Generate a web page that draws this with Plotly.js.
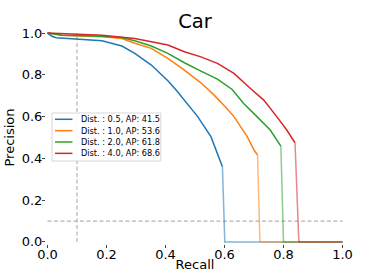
<!DOCTYPE html>
<html>
<head>
<meta charset="utf-8">
<script src="https://cdn.plot.ly/plotly-3.0.1.min.js"></script>
<style>html,body{margin:0;padding:0;background:#fff;}#chart{width:381px;height:272px;}</style>
</head>
<body>
<div id="chart"></div>
<script>
// Dist. 0.5
var recall05 = [0, 0.005, 0.015, 0.03, 0.1, 0.185, 0.252, 0.296, 0.352, 0.408, 0.436, 0.464, 0.509, 0.554, 0.576, 0.593, 0.601, 1.0];
var precision05 = [1.0, 0.995, 0.985, 0.978, 0.972, 0.963, 0.938, 0.903, 0.847, 0.772, 0.727, 0.679, 0.6, 0.504, 0.424, 0.36, 0, 0];
// Dist. 1.0
var recall10 = [0, 0.05, 0.185, 0.252, 0.296, 0.352, 0.408, 0.464, 0.52, 0.565, 0.604, 0.632, 0.677, 0.70, 0.712, 0.72, 1.0];
var precision10 = [1.0, 0.99, 0.983, 0.974, 0.951, 0.927, 0.879, 0.823, 0.762, 0.703, 0.645, 0.6, 0.504, 0.44, 0.416, 0, 0];
// Dist. 2.0
var recall20 = [0, 0.05, 0.185, 0.252, 0.296, 0.352, 0.408, 0.464, 0.52, 0.576, 0.626, 0.665, 0.71, 0.755, 0.791, 0.80, 1.0];
var precision20 = [1.0, 0.99, 0.985, 0.979, 0.963, 0.938, 0.903, 0.858, 0.818, 0.78, 0.73, 0.663, 0.6, 0.536, 0.459, 0, 0];
// Dist. 4.0
var recall40 = [0, 0.1, 0.185, 0.296, 0.352, 0.408, 0.464, 0.52, 0.576, 0.632, 0.688, 0.733, 0.777, 0.811, 0.839, 0.852, 1.0];
var precision40 = [1.0, 0.993, 0.99, 0.974, 0.958, 0.943, 0.911, 0.886, 0.855, 0.807, 0.735, 0.679, 0.6, 0.536, 0.475, 0, 0];

var seriesNames = ["Dist. : 0.5, AP: 41.5", "Dist. : 1.0, AP: 53.6", "Dist. : 2.0, AP: 61.8", "Dist. : 4.0, AP: 68.6"];
var seriesColors = ["#1f77b4", "#ff7f0e", "#2ca02c", "#d62728"];
var recallThreshold = 0.1;
var precisionThreshold = 0.1;
var xTicks = [0, 0.2, 0.4, 0.6, 0.8, 1.0];
var yTicks = [0, 0.2, 0.4, 0.6, 0.8, 1.0];

var recalls = [recall05, recall10, recall20, recall40];
var precisions = [precision05, precision10, precision20, precision40];

var W = 381, H = 272;
var M = {l: 46, r: 36.5, t: 31, b: 28};
var plotW = W - M.l - M.r, plotH = H - M.t - M.b;
function px(xp) { return (xp - M.l) / plotW; }
function py(yp) { return (H - M.b - yp) / plotH; }

var traces = [];
for (var i = 0; i < 4; i++) {
  var n = recalls[i].length;
  traces.push({
    x: recalls[i].slice(n - 3), y: precisions[i].slice(n - 3),
    mode: 'lines', type: 'scatter', showlegend: false, hoverinfo: 'skip',
    line: {color: seriesColors[i], width: 1.5}, opacity: 0.55
  });
}
for (var i = 0; i < 4; i++) {
  var n = recalls[i].length;
  traces.push({
    x: recalls[i].slice(0, n - 2), y: precisions[i].slice(0, n - 2),
    mode: 'lines', type: 'scatter', name: seriesNames[i], showlegend: false,
    line: {color: seriesColors[i], width: 1.5}
  });
}

var dashLine = {color: '#b3b3b3', width: 1.2, dash: '4px,2.5px'};
var shapes = [
  {type: 'line', xref: 'x', yref: 'y', x0: recallThreshold, x1: recallThreshold, y0: 0, y1: 1, line: dashLine, layer: 'below'},
  {type: 'line', xref: 'x', yref: 'y', x0: 0, x1: 1, y0: precisionThreshold, y1: precisionThreshold, line: dashLine, layer: 'below'}
];
var annotations = [];

// custom legend box (matplotlib style)
var lgLeft = 52, lgRight = 161, lgTop = 113, lgBottom = 161;
shapes.push({type: 'rect', xref: 'paper', yref: 'paper', x0: px(lgLeft), x1: px(lgRight), y0: py(lgBottom), y1: py(lgTop),
  line: {color: '#d6d6d6', width: 1}, fillcolor: 'rgba(255,255,255,0.9)', layer: 'above'});
var rowY0 = 119.3, rowStep = 11.35;
for (var i = 0; i < seriesNames.length; i++) {
  var ry = rowY0 + i * rowStep;
  shapes.push({type: 'line', xref: 'paper', yref: 'paper', x0: px(55), x1: px(72.5), y0: py(ry), y1: py(ry),
    line: {color: seriesColors[i], width: 1.5}, layer: 'above'});
  annotations.push({xref: 'paper', yref: 'paper', x: px(79), y: py(ry), xanchor: 'left', yanchor: 'middle',
    text: seriesNames[i], showarrow: false, font: {family: 'DejaVu Sans', size: 8.2, color: '#000'}, xshift: 0});
}

var layout = {
  width: W, height: H,
  margin: {l: M.l, r: M.r, t: M.t, b: M.b, pad: 0},
  paper_bgcolor: '#fff', plot_bgcolor: '#fff',
  font: {family: 'DejaVu Sans', size: 13, color: '#000'},
  title: {text: 'Car', font: {family: 'DejaVu Sans', size: 19.5, color: '#000'}, x: 0.5, xref: 'paper', y: 1 - 21.5 / H, yref: 'container', yanchor: 'middle'},
  xaxis: {
    range: [-0.005, 1.005], tickvals: xTicks, tickformat: '.1f',
    showgrid: false, zeroline: false, showline: false,
    ticks: 'outside', ticklen: 3, tickcolor: '#444', tickwidth: 1, ticklabelstandoff: -5,
    tickfont: {family: 'DejaVu Sans', size: 13, color: '#000'},
    title: {text: 'Recall', font: {family: 'DejaVu Sans', size: 13, color: '#000'}, standoff: 5}
  },
  yaxis: {
    range: [-0.01, 1.01], tickvals: yTicks, tickformat: '.1f',
    showgrid: false, zeroline: false, showline: false,
    ticks: 'outside', ticklen: 3, tickcolor: '#444', tickwidth: 1, ticklabelstandoff: -3,
    tickfont: {family: 'DejaVu Sans', size: 13, color: '#000'},
    title: {text: 'Precision', font: {family: 'DejaVu Sans', size: 13, color: '#000'}, standoff: 4}
  },
  shapes: shapes,
  annotations: annotations,
  showlegend: false
};

Plotly.newPlot('chart', traces, layout, {displayModeBar: false, staticPlot: true});
</script>
</body>
</html>
